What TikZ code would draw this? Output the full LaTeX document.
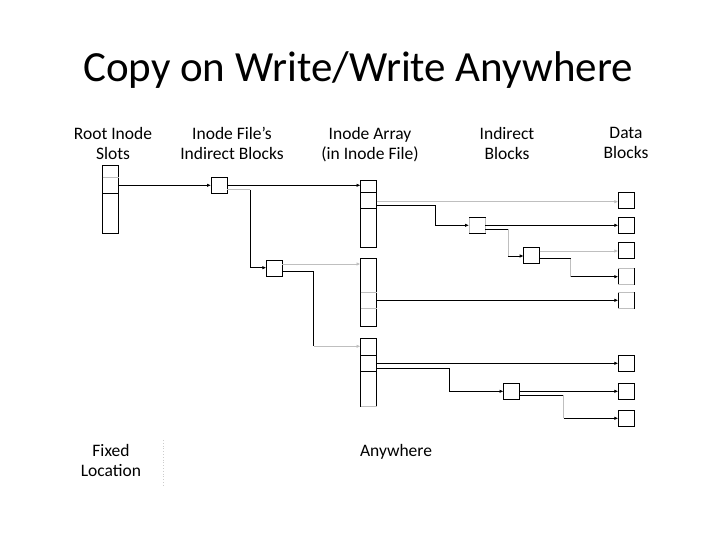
\documentclass[tikz,border=0pt]{standalone}
\usepackage{fontspec}
\setmainfont{Carlito}
\usetikzlibrary{arrows.meta}
\begin{document}
\begin{tikzpicture}[x=1pt,y=-1pt,
  hd/.style={font=\fontsize{17.5}{20}\selectfont,align=center,anchor=north,inner sep=0pt},
  blk/.style={draw,line width=0.8pt,minimum width=16pt,minimum height=16pt,inner sep=0pt,outer sep=0pt},
  col/.style={draw,line width=0.8pt,minimum width=16pt,inner sep=0pt,outer sep=0pt},
  bl/.style={line width=0.8pt},
  gr/.style={line width=0.8pt,black!25},
  ar/.style={-{Latex[length=4pt,width=3.5pt]}}]
\useasboundingbox (0,0) rectangle (720,540);
\node[font=\fontsize{43}{48}\selectfont,anchor=base] (title) at (358,82) {Copy on Write/Write Anywhere};
\node[hd] (h1) at (113,127) {Root Inode\\Slots};
\node[hd] (h2) at (232,127) {Inode File’s\\Indirect Blocks};
\node[hd] (h3) at (370,127) {Inode Array\\(in Inode File)};
\node[hd] (h4) at (507,127) {Indirect\\Blocks};
\node[hd] (h5) at (626,127) {Data\\Blocks};
\node[hd] (fx) at (111,444) {Fixed\\Location};
\node[hd] (aw) at (396,444) {Anywhere};
\draw[black!20,dotted,line width=0.8pt] (163,440) -- (163,485);
% columns
\node[col,minimum height=68pt] (root) at (110.5,199) {};
\draw[gr] (102.5,177.7) -- (118.5,177.7);
\draw[bl] (102.5,193) -- (118.5,193);
\node[col,minimum height=67.3pt] (a1) at (368.5,213.6) {};
\draw[bl] (360.5,192.3) -- (376.5,192.3) (360.5,208.3) -- (376.5,208.3);
\node[col,minimum height=68pt] (a2) at (368.5,292.3) {};
\draw[gr] (360.5,292.3) -- (376.5,292.3) (360.5,308.3) -- (376.5,308.3);
\node[col,minimum height=67.7pt] (a3) at (368.5,372.2) {};
\draw[bl] (360.5,355.3) -- (376.5,355.3) (360.5,371) -- (376.5,371);
\draw[white,line width=1pt] (361,406) -- (376,406);
\draw[gr] (360.5,406) -- (376.5,406);
% indirect blocks
\node[blk] (b1) at (219,185) {};
\node[blk] (b2) at (274.3,268.2) {};
\node[blk] (b3) at (477,225.5) {};
\draw[white,line width=1pt] (469,218.5) -- (469,232.5) (485,218.5) -- (485,232.5);
\draw[gr] (469,218.5) -- (469,232.5) (485,218.5) -- (485,232.5);
\node[blk] (b4) at (531.7,255.7) {};
\node[blk] (b5) at (511.5,391.7) {};
% data blocks
\foreach \n/\y in {1/200.7,2/225.5,3/250.7,4/276,5/300.2,6/363.5,7/391.7,8/418.5}
  \node[blk] (d\n) at (626.3,\y) {};
\draw[white,line width=1pt] (619,268) -- (634,268) (619,284) -- (634,284) (619,292.3) -- (634,292.3) (619,308) -- (634,308);
\draw[gr] (618.3,268) -- (634.3,268) (618.3,284) -- (634.3,284) (618.3,292.3) -- (634.3,292.3) (618.3,308) -- (634.3,308);
% connectors
\draw[bl,ar] (root.east |- 0,185.3) -- (b1.west |- 0,185.3);
\draw[bl,ar] (b1.east |- 0,185.3) -- (a1.west |- 0,185.3);
\draw[gr] (b1.east |- 0,189.7) -- (250.3,189.7);
\draw[bl] (250.3,189.7) -- (250.3,267.7);
\draw[bl,ar] (250.3,267.7) -- (b2.west |- 0,267.7);
\draw[gr,ar] (b2.east |- 0,264) -- (a2.west |- 0,264);
\draw[bl] (b2.east |- 0,271) -- (313.7,271) -- (313.7,346.3);
\draw[gr,ar] (313.7,346.3) -- (a3.west |- 0,346.3);
\draw[gr,ar] (a1.east |- 0,201.7) -- (d1.west |- 0,201.7);
\draw[bl] (a1.east |- 0,205.3) -- (435.3,205.3) -- (435.3,225.3);
\draw[bl,ar] (435.3,225.3) -- (b3.west |- 0,225.3);
\draw[bl,ar] (b3.east |- 0,225.3) -- (d2.west |- 0,225.3);
\draw[bl] (b3.east |- 0,229.3) -- (508.3,229.3);
\draw[gr] (508.3,229.3) -- (508.3,256);
\draw[bl,ar] (508.3,256) -- (b4.west |- 0,256);
\draw[gr,ar] (b4.east |- 0,251) -- (d3.west |- 0,251);
\draw[bl] (b4.east |- 0,258.7) -- (570.7,258.7);
\draw[gr] (570.7,258.7) -- (570.7,276.7);
\draw[bl,ar] (570.7,276.7) -- (d4.west |- 0,276.7);
\draw[bl,ar] (a2.east |- 0,300.3) -- (d5.west |- 0,300.3);
\draw[bl,ar] (a3.east |- 0,363.3) -- (d6.west |- 0,363.3);
\draw[bl] (a3.east |- 0,368.7) -- (449.3,368.7) -- (449.3,391.3);
\draw[bl,ar] (449.3,391.3) -- (b5.west |- 0,391.3);
\draw[bl,ar] (b5.east |- 0,391.3) -- (d7.west |- 0,391.3);
\draw[bl] (b5.east |- 0,395.3) -- (563.7,395.3);
\draw[gr] (563.7,395.3) -- (563.7,418.3);
\draw[bl,ar] (563.7,418.3) -- (d8.west |- 0,418.3);
\end{tikzpicture}
\end{document}
